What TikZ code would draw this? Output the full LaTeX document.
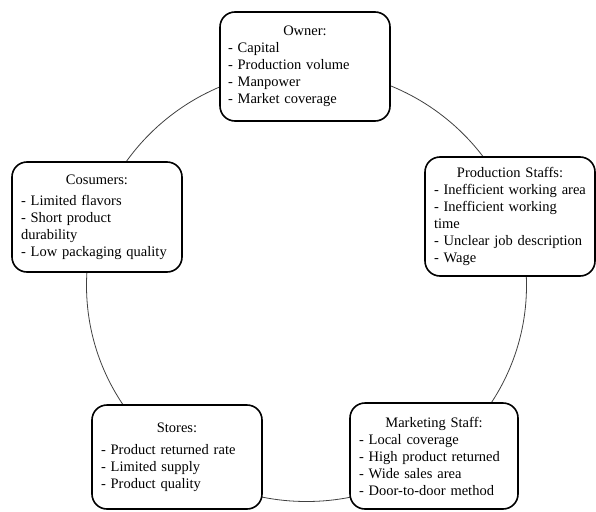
\documentclass[tikz,border=0pt]{standalone}
\usepackage{fontspec}
\setmainfont{Liberation Serif}
\begin{document}
\begin{tikzpicture}[x=1pt,y=1pt,
  box/.style={draw, line width=1.6pt, rounded corners=15pt, fill=white,
    inner xsep=8pt, inner ysep=0pt, align=left,
    font=\fontsize{14.5}{17}\selectfont},
  cyc/.style={draw=black!75, line width=0.8pt}]
\useasboundingbox (0,0) rectangle (596,-511);
\coordinate (c) at (306.5,-285.5);
\draw[cyc] (c) ellipse [x radius=220, y radius=216];
\node[box, text width=154pt, minimum height=109pt] (owner) at (305,-66.5)
  {\makebox[\linewidth]{Owner:}\\- Capital\\- Production volume\\- Manpower\\- Market coverage};
\node[box, text width=154pt, minimum height=119pt, inner xsep=9pt, text width=152pt] (prod) at (510,-216.5)
  {\makebox[\linewidth]{Production Staffs:}\\- Inefficient working area\\- Inefficient working\\time\\- Unclear job description\\- Wage};
\node[box, text width=152pt, inner xsep=9pt, minimum height=110pt] (cons) at (97,-217)
  {\makebox[\linewidth]{Cosumers:}\\[4pt]- Limited flavors\\- Short product\\durability\\- Low packaging quality};
\node[box, text width=152pt, inner xsep=9pt, minimum height=104pt] (stores) at (177,-457)
  {\makebox[\linewidth]{Stores:}\\[5pt]- Product returned rate\\- Limited supply\\- Product quality};
\node[box, text width=150pt, inner xsep=9pt, minimum height=106pt] (mkt) at (434,-456)
  {\makebox[\linewidth]{Marketing Staff:}\\- Local coverage\\- High product returned\\- Wide sales area\\- Door-to-door method};
\end{tikzpicture}
\end{document}
